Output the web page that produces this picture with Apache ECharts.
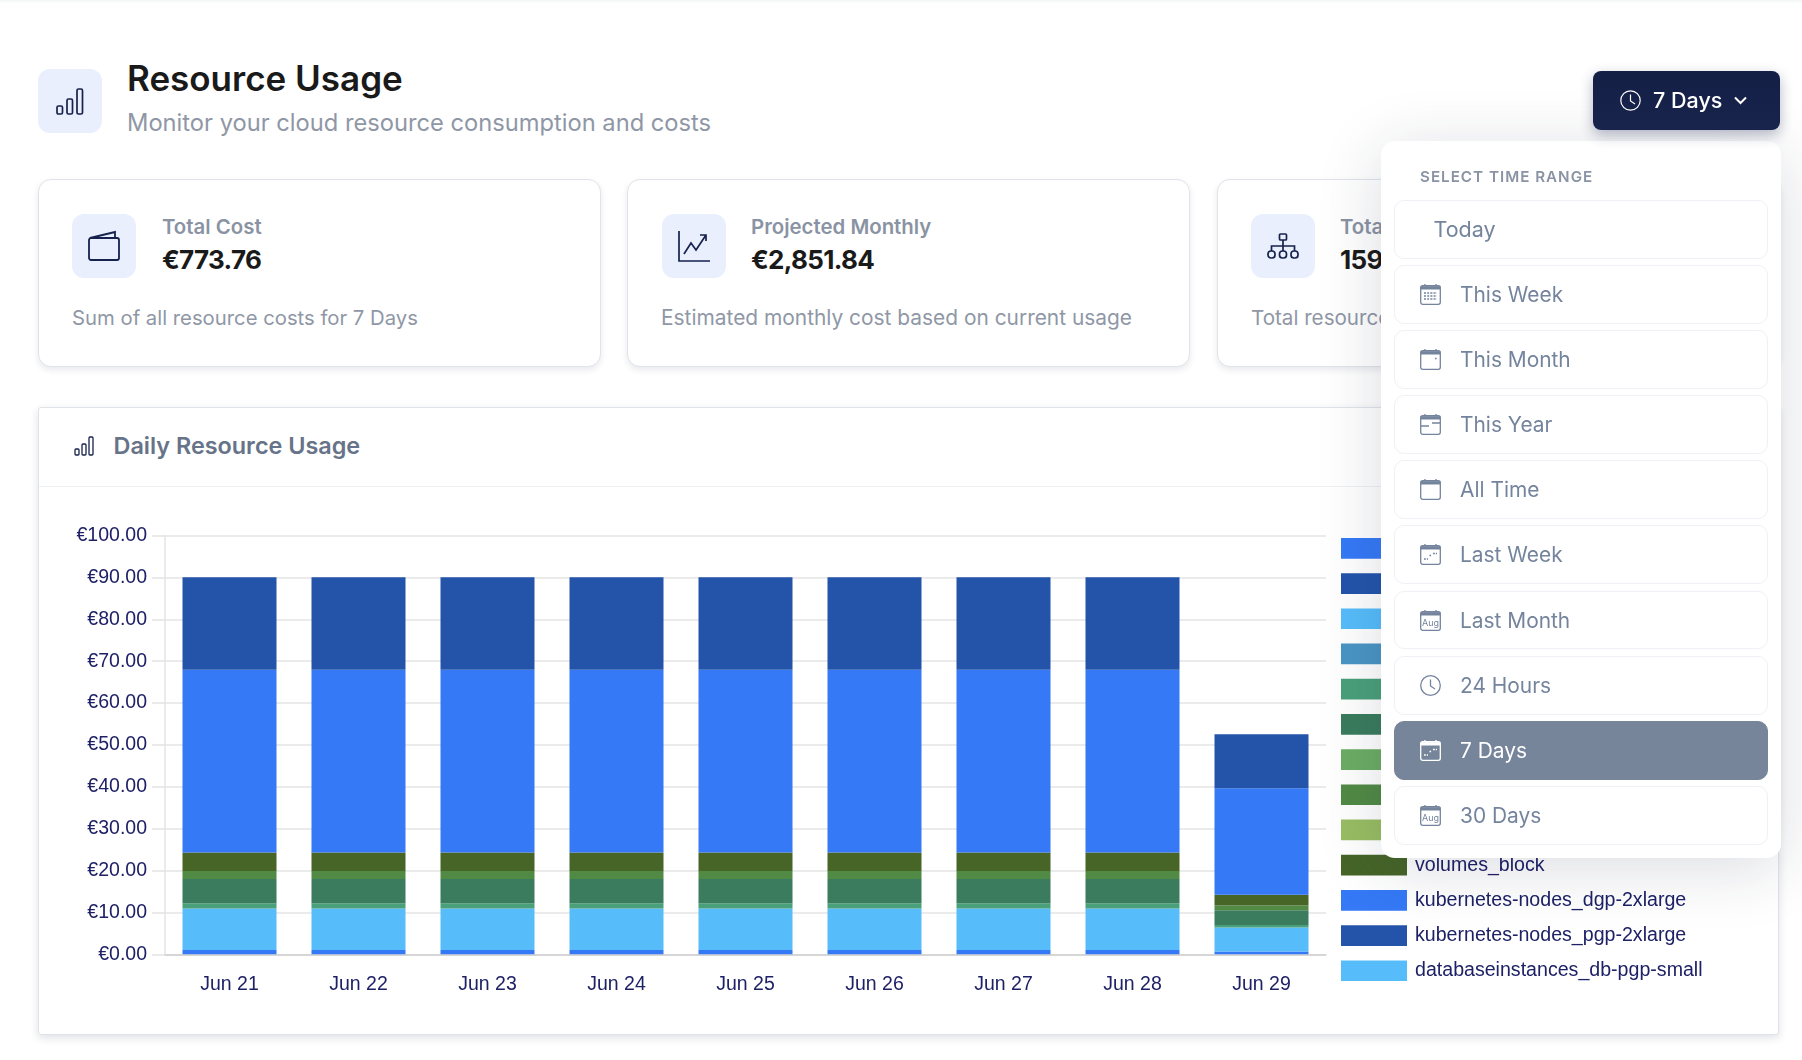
<!DOCTYPE html>
<html><head><meta charset="utf-8">
<script src="https://cdn.jsdelivr.net/npm/echarts@6/dist/echarts.min.js"></script>
<style>
html,body{margin:0;padding:0;width:1802px;height:1060px;overflow:hidden;background:#fff;font-family:Inter,"Noto Sans",sans-serif}
.abs,.card,.item,.icon{position:absolute;box-sizing:border-box}
.t{position:absolute;white-space:nowrap;line-height:1;transform:translateY(-50%)}
.topline{position:absolute;left:0;top:0;width:1802px;height:4px;background:linear-gradient(#f4f5f6,#fff)}
.icon{background:#e9effd;border-radius:12px;display:flex;align-items:center;justify-content:center}
.card{background:#fff;border:1px solid #e0e3e9;border-radius:13px;box-shadow:0 3px 6px rgba(30,40,70,.1)}
#chartCard{left:38px;top:406.5px;width:1741px;height:628px;border-radius:3px;box-shadow:0 3px 8px rgba(30,40,70,.14)}
#chartHead{position:absolute;left:39px;top:486px;width:1739px;height:1px;background:#eff0f3}
#chart{position:absolute;left:0;top:0;width:1802px;height:1060px}
#btn{position:absolute;left:1593px;top:71px;width:187px;height:59px;border-radius:8px;background:linear-gradient(#141f46,#19244d);box-shadow:0 5px 14px rgba(25,36,77,.32)}
#drop{position:absolute;left:1381px;top:141px;width:400px;height:717px;background:#fff;border-radius:14px;box-shadow:0 10px 65px rgba(30,40,70,.16)}
.item{left:1394px;width:374px;height:58.5px;background:#fff;border:1px solid #eff1f6;border-radius:10px;color:#74849d}
.item.on{background:#77859b;border-color:#77859b;color:#fff}
.item svg{position:absolute;left:25px;top:18px}
.item span{position:absolute;left:65px;top:29px;transform:translateY(-50%);font-size:20.9px;line-height:1;white-space:nowrap}
svg{display:block;overflow:visible;fill:none}
</style></head><body>
<div class="topline"></div>

<div class="icon" style="left:38px;top:69px;width:64px;height:64px">
<svg width="30" height="30" viewBox="0 0 30 30" stroke="#16224d" stroke-width="1.7"><rect x="2" y="20" width="5.5" height="8" rx="1.5"/><rect x="12" y="13" width="5.5" height="15" rx="1.5"/><rect x="22" y="3" width="5.5" height="25" rx="1.5"/></svg></div>
<div class="t" style="left:127px;top:78px;font-size:35px;font-weight:600;color:#1a1a1a" id="h1">Resource Usage</div>
<div class="t" style="left:127px;top:123px;font-size:23.7px;color:#8f97a6" id="h2">Monitor your cloud resource consumption and costs</div>

<div class="card" style="left:38px;top:179px;width:563px;height:188px"></div>
<div class="icon" style="left:72px;top:214px;width:64px;height:64px"><svg width="34" height="30" viewBox="0 0 34 30" stroke="#16224d" stroke-width="1.8"><rect x="2" y="7" width="30" height="22" rx="2"/><path d="M3 7 L28 1 V7"/></svg></div>
<div class="t" style="left:162px;top:227px;font-size:20.4px;font-weight:600;color:#8a93a3">Total Cost</div>
<div class="t" style="left:162px;top:260px;font-size:26px;font-weight:700;letter-spacing:-.7px;color:#1a1a1a">€773.76</div>
<div class="t" style="left:72px;top:317.5px;font-size:20.3px;color:#8f97a6">Sum of all resource costs for 7 Days</div>

<div class="card" style="left:627px;top:179px;width:563px;height:188px"></div>
<div class="icon" style="left:662px;top:214px;width:64px;height:64px"><svg width="32" height="32" viewBox="0 0 32 32" stroke="#16224d" stroke-width="1.7"><path d="M1 1 V31 H32"/><path d="M6 24 L13 13 L18 20 L28 5 M22 5 H28 V11"/></svg></div>
<div class="t" style="left:751px;top:227px;font-size:20.4px;font-weight:600;color:#8a93a3">Projected Monthly</div>
<div class="t" style="left:751px;top:260px;font-size:26px;font-weight:700;letter-spacing:-.7px;color:#1a1a1a">€2,851.84</div>
<div class="t" style="left:661px;top:317.5px;font-size:20.9px;color:#8f97a6">Estimated monthly cost based on current usage</div>

<div class="card" style="left:1217px;top:179px;width:563px;height:188px"></div>
<div class="icon" style="left:1251px;top:214px;width:64px;height:64px"><svg width="32" height="26" viewBox="0 0 32 26" stroke="#16224d" stroke-width="1.7"><rect x="12.5" y="1" width="7" height="6" rx="1"/><rect x="1" y="18" width="7" height="7" rx="3"/><rect x="12.5" y="18" width="7" height="7" rx="3"/><rect x="24" y="18" width="7" height="7" rx="3"/><path d="M16 7 V18 M4.5 18 V13 H27.5 V18"/></svg></div>
<div class="t" style="left:1340px;top:227px;font-size:20.4px;font-weight:600;color:#8a93a3">Total Resources</div>
<div class="t" style="left:1340px;top:260px;font-size:26px;font-weight:700;letter-spacing:-.7px;color:#1a1a1a">159</div>
<div class="t" style="left:1251px;top:317.5px;font-size:20.6px;color:#8f97a6">Total resources</div>

<div class="card" id="chartCard"></div>
<div id="chartHead"></div>
<div class="abs" style="left:74px;top:436px"><svg width="21" height="20" viewBox="0 0 21 20" stroke="#16224d" stroke-width="1.3"><rect x="1" y="13" width="4" height="6" rx="1"/><rect x="8" y="8" width="4" height="11" rx="1"/><rect x="15" y="1" width="4" height="18" rx="1"/></svg></div>
<div class="t" style="left:113.5px;top:446px;font-size:23.4px;font-weight:600;color:#677388">Daily Resource Usage</div>

<div id="chart"></div>

<div id="drop"></div>
<div class="t" style="left:1420px;top:177px;font-size:15.2px;font-weight:600;letter-spacing:1px;color:#8a93a3">SELECT TIME RANGE</div>
<div id="items"></div>

<div id="btn"></div>
<div class="abs" style="left:1620px;top:90px"><svg width="21" height="21" viewBox="0 0 21 21" stroke="#fff" stroke-width="1.2"><circle cx="10.5" cy="10.5" r="9.7"/><path d="M10.5 4.5 V11 L15 14"/></svg></div>
<div class="t" style="left:1653px;top:101px;font-size:21.5px;font-weight:500;color:#fff">7 Days</div>
<div class="abs" style="left:1734px;top:96px"><svg width="13" height="9" viewBox="0 0 13 9" stroke="#fff" stroke-width="2"><path d="M1 1.5 L6.5 7 L12 1.5"/></svg></div>

<script>
const categories = ['Jun 21','Jun 22','Jun 23','Jun 24','Jun 25','Jun 26','Jun 27','Jun 28','Jun 29'];

// names 1-9 sit behind the open dropdown in the reference and cannot be read
const hiddenSeries1 = 'hidden series 1';
const hiddenSeries2 = 'hidden series 2';
const hiddenSeries3 = 'hidden series 3';
const hiddenSeries4 = 'hidden series 4';
const hiddenSeries5 = 'hidden series 5';
const hiddenSeries6 = 'hidden series 6';
const hiddenSeries7 = 'hidden series 7';
const hiddenSeries8 = 'hidden series 8';
const hiddenSeries9 = 'hidden series 9';
const visibleNames = ['volumes_block','kubernetes-nodes_dgp-2xlarge','kubernetes-nodes_pgp-2xlarge','databaseinstances_db-pgp-small'];

const values1  = [1.03,1.03,1.03,1.03,1.03,1.03,1.03,1.03,0.64];
const values2  = [0,0,0,0,0,0,0,0,0];
const values3  = [9.90,9.90,9.90,9.90,9.90,9.90,9.90,9.90,5.74];
const values4  = [0,0,0,0,0,0,0,0,0];
const values5  = [1.25,1.25,1.25,1.25,1.25,1.25,1.25,1.25,0.64];
const values6  = [5.80,5.80,5.80,5.80,5.80,5.80,5.80,5.80,3.50];
const values7  = [0,0,0,0,0,0,0,0,0];
const values8  = [1.90,1.90,1.90,1.90,1.90,1.90,1.90,1.90,1.14];
const values9  = [0,0,0,0,0,0,0,0,0];
const values10 = [4.45,4.45,4.45,4.45,4.45,4.45,4.45,4.45,2.56];
const values11 = [43.6,43.6,43.6,43.6,43.6,43.6,43.6,43.6,25.4];
const values12 = [22.1,22.1,22.1,22.1,22.1,22.1,22.1,22.1,12.9];
const values13 = [0,0,0,0,0,0,0,0,0];

const colors = ['#3579f6','#2354aa','#56bdfa','#4a95c4','#4aa07a','#3a7c5d','#6bad64','#518a45','#98bd62','#466527','#3579f6','#2354aa','#56bdfa'];
const names = [hiddenSeries1,hiddenSeries2,hiddenSeries3,hiddenSeries4,hiddenSeries5,hiddenSeries6,hiddenSeries7,hiddenSeries8,hiddenSeries9,...visibleNames];
const allValues = [values1,values2,values3,values4,values5,values6,values7,values8,values9,values10,values11,values12,values13];

const timeRanges = ['Today','This Week','This Month','This Year','All Time','Last Week','Last Month','24 Hours','7 Days','30 Days'];
const rangeTops = [200.3,265,330,395,460,525,590.5,656,721,786];
const cal=(inner)=>`<svg width="21" height="21" viewBox="0 0 21 21" stroke="currentColor" stroke-width="1.3"><rect x=".7" y="1.7" width="19.6" height="18.6" rx="2"/><path d="M.7 3.8 H20.3" stroke-width="3.4"/><path d="M5 0V2M16 0V2" stroke-width="1.3"/>${inner}</svg>`;
const weekDots='<path d="M4 15h4M9.5 11.5h1.6M13 9.5h4" stroke-dasharray="1.8 1" stroke-width="1.7"/>';
const aug='<text x="10.5" y="16" text-anchor="middle" font-size="9" fill="currentColor" stroke="none" font-family="Inter">Aug</text>';
const icons={
 'Today':'',
 'This Week':cal('<path d="M4 9h13M4 12h13M4 15h13" stroke-dasharray="2 1.2" stroke-width="1.6"/>'),
 'This Month':cal('<path d="M15 9.5h1.6" stroke-width="1.6"/>'),
 'This Year':cal('<path d="M1 12H9M12 9H20" stroke-width="1.6"/>'),
 'All Time':cal(''),
 'Last Week':cal(weekDots),
 'Last Month':cal(aug),
 '24 Hours':'<svg width="21" height="21" viewBox="0 0 21 21" stroke="currentColor" stroke-width="1.3"><circle cx="10.5" cy="10.5" r="9.8"/><path d="M10.5 4.5V11L15 14"/></svg>',
 '7 Days':cal(weekDots),
 '30 Days':cal(aug)
};
document.getElementById('items').innerHTML = timeRanges.map((r,i)=>{
  const style = r==='Today' ? 'style="left:38.5px;font-size:21.5px"' : '';
  return `<div class="item${r==='7 Days'?' on':''}" style="top:${rangeTops[i]}px">${icons[r]}<span ${style}>${r}</span></div>`;
}).join('');

const axisColor='#1e2166';
const chart = echarts.init(document.getElementById('chart'),null,{renderer:'canvas'});
chart.setOption({
  animation:false,
  backgroundColor:'transparent',
  textStyle:{fontFamily:'"Liberation Sans",Arial,sans-serif'},
  grid:{left:165,top:535.5,width:1161,height:418.8,containLabel:false},
  legend:{
    orient:'vertical',left:1341,top:538,padding:0,itemWidth:66,itemHeight:20.7,itemGap:14.5,
    icon:'rect',data:names,selectedMode:false,
    formatter:n=>visibleNames.includes(n)?n:'',
    textStyle:{color:axisColor,fontSize:19.6,lineHeight:18,padding:[2,0,0,3],fontFamily:'"Liberation Sans",Arial,sans-serif'}
  },
  xAxis:{type:'category',data:categories,
    axisLine:{show:true,lineStyle:{color:'#cfcfcf',width:1.5}},axisTick:{show:false},
    axisLabel:{color:axisColor,fontSize:19.5,margin:20},
    splitLine:{show:false}},
  yAxis:{type:'value',min:0,max:100,interval:10,
    axisLine:{show:true,lineStyle:{color:'#e4e4e4',width:1.5}},
    axisTick:{show:true,length:13,lineStyle:{color:'#e4e4e4',width:1.5}},
    axisLabel:{color:axisColor,fontSize:19.5,margin:18,formatter:v=>'€'+v.toFixed(2)},
    splitLine:{show:true,lineStyle:{color:'#e4e4e4',width:1.5}}},
  series:names.map((n,i)=>({name:n,type:'bar',stack:'cost',barWidth:94,
    data:allValues[i].map(v=>v===0?null:v),
    itemStyle:{color:colors[i]}}))
});
</script>
</body></html>
